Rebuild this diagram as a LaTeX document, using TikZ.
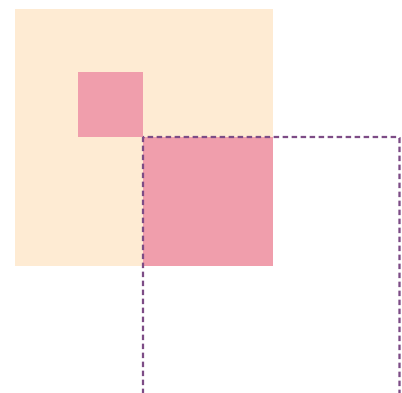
\documentclass[tikz,border=0pt]{standalone}
\definecolor{beige}{HTML}{FEEBD3}
\definecolor{pinkfill}{HTML}{F09EAC}
\definecolor{purpleline}{HTML}{7D4C86}
\begin{document}
\begin{tikzpicture}[x=1pt,y=1pt,
  beigebox/.style={fill=beige,draw=none},
  pinkbox/.style={fill=pinkfill,draw=none},
  dashbox/.style={draw=purpleline,line width=2.4pt,dash pattern=on 5.5pt off 3.5pt,rounded corners=1pt}]
\useasboundingbox (0,0) rectangle (402,392);
\clip (0,0) rectangle (402,392);
\fill[beigebox] (15,126) rectangle (273,383);
\fill[pinkbox] (78,255) rectangle (143,320);
\fill[pinkbox] (143,126) rectangle (273,255);
\draw[dashbox] (143,-20) -- (143,255) -- (399.5,255) -- (399.5,-20);
\end{tikzpicture}
\end{document}
